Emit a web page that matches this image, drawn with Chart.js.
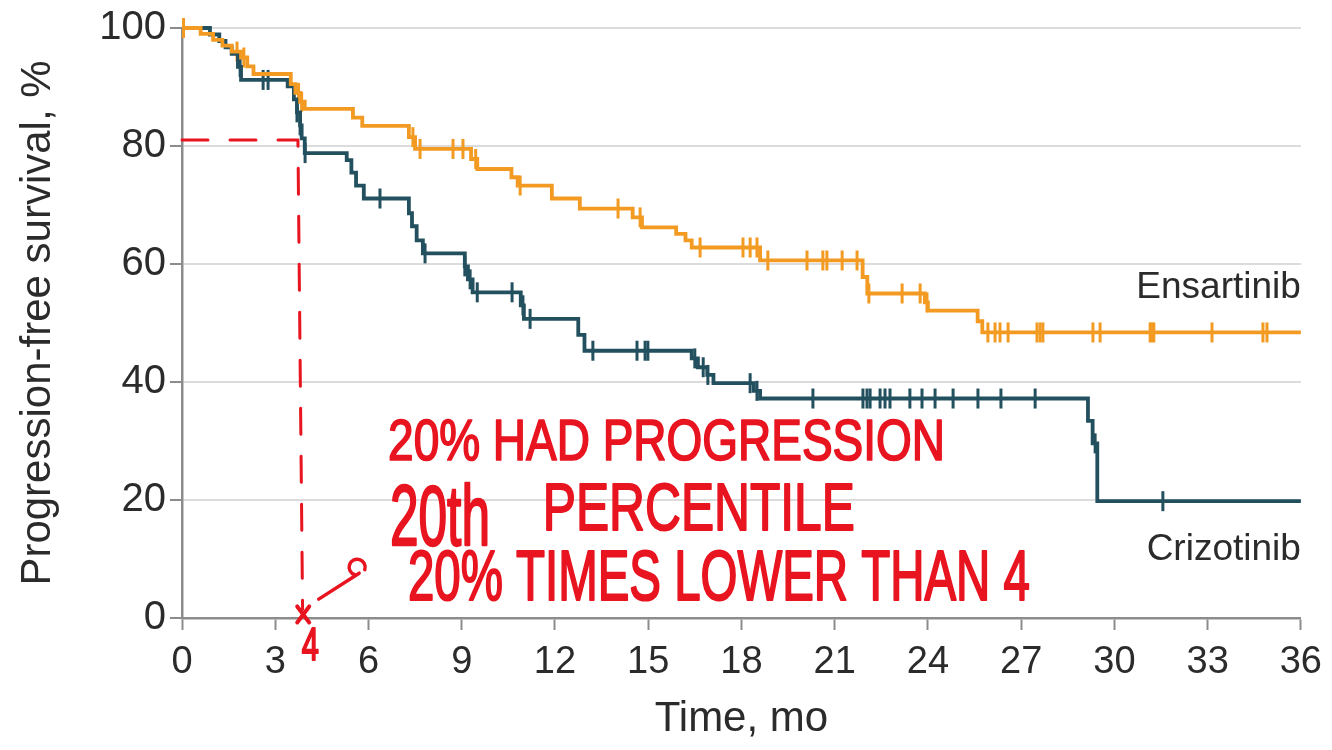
<!DOCTYPE html>
<html>
<head>
<meta charset="utf-8">
<script src="https://cdn.jsdelivr.net/npm/chart.js@4"></script>
<style>
  html, body { margin: 0; padding: 0; background: #fff; }
  #wrap { width: 1332px; height: 750px; }
</style>
</head>
<body>
<div id="wrap"><canvas id="pfs-chart" width="1332" height="750"></canvas></div>
<script>
const ENS_ORANGE = "#F39A22";
const CRZ_TEAL = "#23505F";
const PEN_RED = "#E8141F";

// Kaplan-Meier steps: time (months) where the curve drops, and the level after the drop
const ensTimes  = [0, 0.6, 1.0, 1.3, 1.6, 1.9, 2.1, 2.3, 3.5, 3.65, 3.8, 3.95, 5.5, 5.8, 7.3, 7.5, 9.3, 9.5,
                   10.6, 10.8, 11.9, 12.8, 14.5, 14.8, 15.9, 16.2, 16.4, 18.6, 21.9, 22.05, 23.9, 24.0, 25.6, 25.75, 36];
const ensLevels = [100, 99.0, 98.0, 97.0, 96.0, 95.0, 93.5, 92.2, 90.5, 89.0, 87.5, 86.3, 84.8, 83.4, 81.5, 79.5, 77.8, 76.1,
                   74.7, 73.3, 71.1, 69.4, 67.9, 66.2, 65.1, 64.0, 62.8, 60.6, 57.8, 55.0, 53.5, 52.1, 50.3, 48.4, 48.4];
const ensCensored = [0.05, 1.77, 1.99, 3.75, 3.85, 7.43, 7.66, 8.72, 9.04, 9.45, 10.88, 14.03, 14.74, 16.67,
                     18.05, 18.28, 18.5, 18.85, 20.11, 20.62, 20.75, 21.24, 21.72, 22.1, 23.17, 23.75, 23.97,
                     25.93, 26.16, 26.32, 26.58, 27.51, 27.61, 27.7, 29.31, 29.54, 31.15, 31.21, 31.27, 33.14, 34.78, 34.91];

const crzTimes  = [0, 0.9, 1.2, 1.4, 1.6, 1.8, 1.9, 3.4, 3.6, 3.7, 3.8, 3.85, 3.95, 5.3, 5.45, 5.6, 5.85,
                   7.3, 7.4, 7.55, 7.75, 9.1, 9.2, 9.35, 10.9, 11.0, 12.75, 12.95, 16.4, 16.6, 16.9, 17.1,
                   18.4, 18.6, 29.15, 29.3, 29.45, 36];
const crzLevels = [100, 98.9, 97.8, 96.7, 95.6, 93.4, 91.2, 90.1, 87.9, 85.7, 83.5, 81.3, 78.8, 77.6, 75.5, 73.3, 71.1,
                   68.6, 66.4, 64.0, 61.8, 59.6, 57.4, 55.2, 53.0, 50.7, 48.0, 45.3, 44.0, 42.5, 41.2, 39.8,
                   38.5, 37.2, 33.4, 29.6, 19.8, 19.8];
const crzCensored = [1.87, 2.61, 2.77, 3.7, 3.8, 3.96, 6.37, 7.82, 9.1, 9.27, 9.5, 10.62, 10.97, 11.2, 13.22,
                     14.64, 14.9, 14.99, 16.5, 16.77, 16.92, 18.28, 18.5, 20.3, 21.91, 22.04, 22.14, 22.46,
                     22.62, 22.78, 23.42, 23.81, 24.23, 24.81, 25.61, 26.35, 27.45, 29.38, 31.56];

const xTicks = [0, 3, 6, 9, 12, 15, 18, 21, 24, 27, 30, 33, 36];
const yTicks = [0, 20, 40, 60, 80, 100];

// level of a step curve at time t
function levelAt(times, levels, t) {
    let v = levels[0];
    for (let i = 0; i < times.length; i++) {
        if (times[i] <= t) v = levels[i];
    }
    return v;
}

function stepPoints(times, levels) {
    return times.map((t, i) => ({ x: t, y: levels[i] }));
}

function censorPoints(times, levels, censored) {
    return censored.map(t => ({ x: t, y: levelAt(times, levels, t) }));
}

// arm names written at the right end of each curve (months, percent of baseline)
const armLabels = [
    { text: "Ensartinib", x: 36, y: 54.3 },
    { text: "Crizotinib", x: 36, y: 9.8 }
];

// red pen notes, boxes in months / percent
const MARK_PFS = 81;
const MARK_TIME = 3.73;
const penNotes = [
    { text: "20% HAD PROGRESSION", x0: 6.63, x1: 24.55, top: 33.6, bottom: 26.7 },
    { text: "20th", x0: 6.69, x1: 9.91, top: 22.8, bottom: 12.4 },
    { text: "PERCENTILE", x0: 11.61, x1: 21.65, top: 23.0, bottom: 14.9 },
    { text: "20% TIMES LOWER THAN 4", x0: 7.27, x1: 27.28, top: 11.5, bottom: 3.0 },
    { text: "4", x0: 3.85, x1: 4.4, top: -1.4, bottom: -7.1 }
];

const sideLabels = {
    id: "sideLabels",
    afterDatasetsDraw(chart) {
        const { ctx, scales: { x, y } } = chart;
        ctx.save();
        ctx.fillStyle = "#2b2b2b";
        ctx.font = '37px "Liberation Sans", Arial, sans-serif';
        ctx.textAlign = "right";
        ctx.textBaseline = "alphabetic";
        for (const lab of armLabels) {
            ctx.fillText(lab.text, x.getPixelForValue(lab.x), y.getPixelForValue(lab.y));
        }
        ctx.restore();
    }
};

// stretch a line of text into the given pixel box, with a pen-like outline
function fitText(ctx, text, left, right, top, bottom) {
    const size = 100;
    ctx.font = size + 'px "Liberation Sans", Arial, sans-serif';
    const w = ctx.measureText(text).width;
    const sx = (right - left) / w;
    const sy = (bottom - top) / (size * 0.72);
    ctx.save();
    ctx.translate(left, bottom);
    ctx.scale(sx, sy);
    ctx.lineWidth = 1.4 / Math.min(sx, sy);
    ctx.strokeText(text, 0, 0);
    ctx.fillText(text, 0, 0);
    ctx.restore();
}

const penMarks = {
    id: "penMarks",
    afterDraw(chart) {
        const { ctx, scales: { x, y } } = chart;
        ctx.save();
        ctx.strokeStyle = PEN_RED;
        ctx.fillStyle = PEN_RED;
        ctx.lineWidth = 3;
        ctx.lineCap = "round";
        ctx.lineJoin = "round";

        // dashed guide from 80% across to the curve and down to the time axis
        ctx.setLineDash([26, 22]);
        ctx.beginPath();
        ctx.moveTo(x.getPixelForValue(0), y.getPixelForValue(MARK_PFS));
        ctx.lineTo(x.getPixelForValue(MARK_TIME), y.getPixelForValue(MARK_PFS));
        ctx.lineTo(x.getPixelForValue(MARK_TIME + 0.15), y.getPixelForValue(1.5));
        ctx.stroke();
        ctx.setLineDash([]);

        // cross where the guide meets the axis
        const cx = x.getPixelForValue(MARK_TIME + 0.17), cy = y.getPixelForValue(0.6);
        ctx.lineWidth = 4;
        ctx.beginPath();
        ctx.moveTo(cx - 6, cy - 8); ctx.lineTo(cx + 6, cy + 8);
        ctx.moveTo(cx + 6, cy - 8); ctx.lineTo(cx - 6, cy + 8);
        ctx.stroke();

        // arrow towards the note
        const ax0 = x.getPixelForValue(4.4), ay0 = y.getPixelForValue(3.2);
        const ax1 = x.getPixelForValue(5.7), ay1 = y.getPixelForValue(7.6);
        ctx.lineWidth = 3.5;
        ctx.beginPath();
        ctx.moveTo(ax0, ay0);
        ctx.lineTo(ax1, ay1);
        ctx.stroke();
        ctx.beginPath();
        ctx.arc(ax1 - 2, ay1 - 6, 8, Math.PI * 0.6, Math.PI * 2.1);
        ctx.stroke();

        ctx.textAlign = "left";
        ctx.textBaseline = "alphabetic";
        for (const n of penNotes) {
            fitText(ctx, n.text, x.getPixelForValue(n.x0), x.getPixelForValue(n.x1),
                    y.getPixelForValue(n.top), y.getPixelForValue(n.bottom));
        }
        ctx.restore();
    }
};

new Chart(document.getElementById("pfs-chart"), {
    type: "line",
    data: {
        datasets: [
            {
                label: "Ensartinib",
                data: stepPoints(ensTimes, ensLevels),
                borderColor: ENS_ORANGE,
                borderWidth: 3.8,
                stepped: "before",
                pointRadius: 0,
                fill: false,
                clip: false
            },
            {
                label: "Crizotinib",
                data: stepPoints(crzTimes, crzLevels),
                borderColor: CRZ_TEAL,
                borderWidth: 3.8,
                stepped: "before",
                pointRadius: 0,
                fill: false,
                clip: false
            },
            {
                label: "Ensartinib censored",
                data: censorPoints(ensTimes, ensLevels, ensCensored),
                showLine: false,
                pointStyle: "line",
                rotation: 90,
                pointRadius: 10,
                pointBorderWidth: 3,
                pointBorderColor: ENS_ORANGE,
                borderColor: ENS_ORANGE,
                clip: false
            },
            {
                label: "Crizotinib censored",
                data: censorPoints(crzTimes, crzLevels, crzCensored),
                showLine: false,
                pointStyle: "line",
                rotation: 90,
                pointRadius: 10,
                pointBorderWidth: 3,
                pointBorderColor: CRZ_TEAL,
                borderColor: CRZ_TEAL,
                clip: false
            }
        ]
    },
    options: {
        responsive: false,
        animation: false,
        devicePixelRatio: 1,
        layout: { padding: { top: 27, right: 31, left: 0, bottom: 0 } },
        plugins: {
            legend: { display: false },
            tooltip: { enabled: false }
        },
        scales: {
            x: {
                type: "linear",
                min: 0,
                max: 36,
                afterFit: s => { s.height = 132; },
                afterBuildTicks: s => { s.ticks = xTicks.map(v => ({ value: v })); },
                ticks: {
                    color: "#2b2b2b",
                    font: { family: '"Liberation Sans", Arial, sans-serif', size: 38 },
                    padding: 10,
                    maxRotation: 0
                },
                grid: { drawOnChartArea: false, tickLength: 12, tickColor: "#8c8c8c", tickWidth: 2 },
                border: { color: "#8c8c8c", width: 2.5 },
                title: {
                    display: true,
                    text: "Time, mo",
                    color: "#2b2b2b",
                    font: { family: '"Liberation Sans", Arial, sans-serif', size: 42 },
                    padding: { top: 0, bottom: 5 }
                }
            },
            y: {
                min: 0,
                max: 100,
                afterFit: s => { s.width = 182; },
                afterBuildTicks: s => { s.ticks = yTicks.map(v => ({ value: v })); },
                ticks: {
                    color: "#2b2b2b",
                    font: { family: '"Liberation Sans", Arial, sans-serif', size: 40 },
                    padding: 4
                },
                grid: {
                    color: ctx => ctx.tick && ctx.tick.value === 0 ? "rgba(0,0,0,0)" : "#dcdcdc",
                    lineWidth: 2,
                    tickLength: 12,
                    tickColor: "#8c8c8c"
                },
                border: { color: "#8c8c8c", width: 2.5 },
                title: {
                    display: true,
                    text: "Progression-free survival, %",
                    color: "#2b2b2b",
                    font: { family: '"Liberation Sans", Arial, sans-serif', size: 42 },
                    padding: { top: 13, bottom: 0 }
                }
            }
        }
    },
    plugins: [sideLabels, penMarks]
});
</script>
</body>
</html>
